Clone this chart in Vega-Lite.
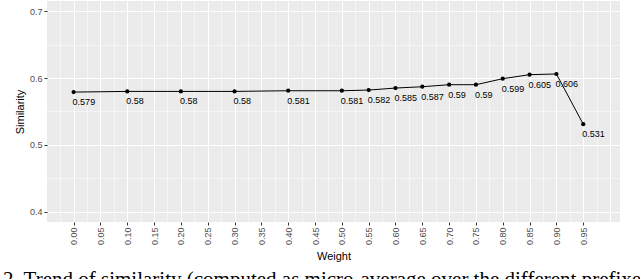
{
  "$schema": "https://vega.github.io/schema/vega-lite/v6.json",
  "autosize": {"type": "none"},
  "width": 573,
  "height": 221,
  "padding": {"left": 47, "top": 1, "right": 20, "bottom": 57},
  "background": "white",
  "title": {
    "text": "2. Trend of similarity (computed as micro-average over the different prefixes",
    "orient": "bottom",
    "anchor": "start",
    "frame": "group",
    "dx": -44,
    "offset": 7,
    "font": "Liberation Serif",
    "fontSize": 21,
    "fontWeight": "normal",
    "color": "black"
  },
  "config": {
    "view": {"fill": "#EBEBEB", "stroke": null},
    "axis": {
      "domain": false,
      "gridColor": "white",
      "tickColor": "#333333",
      "tickSize": 3,
      "labelFont": "Liberation Sans",
      "labelFontSize": 9,
      "labelColor": "#4D4D4D",
      "titleFont": "Liberation Sans",
      "titleFontSize": 11,
      "titleFontWeight": "normal",
      "titleColor": "black"
    }
  },
  "data": {
    "values": [
      {"weight": 0.00, "similarity": 0.579},
      {"weight": 0.10, "similarity": 0.580},
      {"weight": 0.20, "similarity": 0.580},
      {"weight": 0.30, "similarity": 0.580},
      {"weight": 0.40, "similarity": 0.581},
      {"weight": 0.50, "similarity": 0.581},
      {"weight": 0.55, "similarity": 0.582},
      {"weight": 0.60, "similarity": 0.585},
      {"weight": 0.65, "similarity": 0.587},
      {"weight": 0.70, "similarity": 0.590},
      {"weight": 0.75, "similarity": 0.590},
      {"weight": 0.80, "similarity": 0.599},
      {"weight": 0.85, "similarity": 0.605},
      {"weight": 0.90, "similarity": 0.606},
      {"weight": 0.95, "similarity": 0.531}
    ]
  },
  "encoding": {
    "x": {
      "field": "weight",
      "type": "quantitative",
      "title": "Weight",
      "scale": {"domain": [-0.0496, 1.0185], "nice": false, "zero": false},
      "axis": {
        "values": [-0.025, 0, 0.025, 0.05, 0.075, 0.1, 0.125, 0.15, 0.175, 0.2, 0.225, 0.25, 0.275, 0.3, 0.325, 0.35, 0.375, 0.4, 0.425, 0.45, 0.475, 0.5, 0.525, 0.55, 0.575, 0.6, 0.625, 0.65, 0.675, 0.7, 0.725, 0.75, 0.775, 0.8, 0.825, 0.85, 0.875, 0.9, 0.925, 0.95, 0.975, 1.0],
        "labelExpr": "(abs(datum.value*20 - round(datum.value*20)) < 0.01 && datum.value < 0.96 && datum.value > -0.01) ? format(datum.value, '.2f') : ''",
        "labelAngle": -90,
        "labelPadding": 2,
        "labelFlush": false,
        "labelOverlap": false,
        "titlePadding": 6,
        "tickOpacity": {"condition": {"test": "abs(datum.value*20 - round(datum.value*20)) < 0.01 && datum.value < 0.96 && datum.value > -0.01", "value": 1}, "value": 0},
        "gridWidth": {"condition": {"test": "abs(datum.value*20 - round(datum.value*20)) < 0.01", "value": 1.1}, "value": 0.5}
      }
    },
    "y": {
      "field": "similarity",
      "type": "quantitative",
      "title": "Similarity",
      "scale": {"domain": [0.385, 0.715], "nice": false, "zero": false},
      "axis": {
        "values": [0.4, 0.45, 0.5, 0.55, 0.6, 0.65, 0.7],
        "labelExpr": "(abs(datum.value*10 - round(datum.value*10)) < 0.01) ? format(datum.value, '.1f') : ''",
        "labelPadding": 2,
        "labelFlush": false,
        "titlePadding": 4,
        "tickOpacity": {"condition": {"test": "abs(datum.value*10 - round(datum.value*10)) < 0.01", "value": 1}, "value": 0},
        "gridWidth": {"condition": {"test": "abs(datum.value*10 - round(datum.value*10)) < 0.01", "value": 1.1}, "value": 0.5}
      }
    }
  },
  "layer": [
    {"mark": {"type": "line", "color": "black", "strokeWidth": 1}},
    {"mark": {"type": "point", "filled": true, "color": "black", "size": 18, "opacity": 1}},
    {
      "mark": {"type": "text", "align": "left", "baseline": "top", "dx": -1, "dy": 6, "font": "Liberation Sans", "fontSize": 9, "color": "black"},
      "encoding": {"text": {"field": "similarity", "type": "quantitative", "format": "~g"}}
    }
  ]
}
